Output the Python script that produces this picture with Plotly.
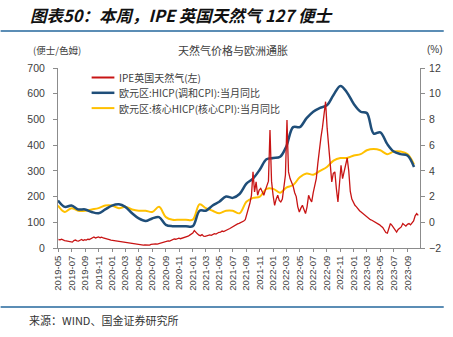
import pandas as pd
import plotly.graph_objects as go

# ---------------- data ----------------
# IPE UK natural gas (pence/therm), weekly readings (Fridays) from 2019-05-03
gas_vals = [
    # 2019 May-Dec
    33, 32, 34, 30, 29,
    28, 26, 27, 24,
    23, 29, 31, 28,
    27, 30, 33, 29, 32,
    31, 34, 33, 36,
    40, 43, 39, 41,
    43, 40, 42, 39, 38,
    37, 35, 33, 31,
    # 2020
    30, 31, 28, 27, 26,
    26, 24, 25, 23,
    23, 21, 20, 19,
    18, 16, 15, 14,
    13, 12, 10, 11, 12,
    12, 13, 11, 14,
    15, 14, 16, 15, 17,
    18, 20, 22, 24,
    26, 28, 27, 30,
    33, 35, 34, 37, 38,
    36, 38, 40, 41,
    43, 46, 50, 54,
    # 2021
    58, 68, 60, 55, 50,
    48, 52, 46, 45,
    47, 48, 51, 49,
    52, 56, 54, 58, 61,
    62, 66, 64, 68,
    69, 73, 76, 80,
    83, 87, 90, 94, 96,
    98, 100, 105, 110,
    130, 150, 175, 205,
    296, 218, 257, 205, 225,
    232, 215, 205, 225,
    245, 260, 459, 260, 205,
    # 2022
    166, 190, 205, 185,
    179, 190, 230, 284,
    498, 296, 270, 257,
    240, 215, 200, 160, 140,
    155, 166, 150, 134,
    160, 205, 190, 179,
    215, 240, 271, 330, 390,
    430, 470, 520, 569,
    466, 388, 335, 257, 290,
    296, 230, 179, 250,
    322, 270, 300, 329,
    350, 300, 220, 190, 175,
    # 2023
    166, 160, 150, 145,
    140, 135, 128, 125,
    120, 115, 110, 108, 105,
    100, 98, 95, 90,
    85, 80, 70, 60,
    58, 75, 95, 88, 80,
    70, 62, 72, 78,
    82, 95, 88, 85,
    92, 95, 90, 100, 105,
    125, 134, 127,
]
gas_dates = pd.date_range("2019-05-03", periods=len(gas_vals), freq="7D")

# Euro area HICP yoy (%), monthly, plotted at month end
hicp_vals = [
    1.7, 1.2, 1.3, 1.0, 1.0, 0.8, 0.7, 1.0, 1.3,
    1.4, 1.2, 0.7, 0.3, 0.1, 0.3, 0.4, -0.2, -0.3, -0.3, -0.3, -0.3,
    0.9, 0.9, 1.3, 1.6, 2.0, 1.9, 2.2, 3.0, 3.4, 4.1, 4.9, 5.0,
    5.1, 5.9, 7.4, 7.4, 8.1, 8.6, 8.9, 9.1, 9.9, 10.6, 10.1, 9.2,
    8.6, 8.5, 6.9, 7.0, 6.1, 5.5, 5.3, 5.2, 4.3,
]
core_vals = [
    1.3, 0.8, 1.1, 0.9, 0.9, 1.0, 1.1, 1.3, 1.3,
    1.1, 1.2, 1.0, 0.9, 0.9, 0.8, 1.2, 0.4, 0.2, 0.2, 0.2, 0.2,
    1.4, 1.1, 0.9, 0.7, 0.9, 0.9, 0.7, 1.6, 1.9, 2.0, 2.6, 2.6,
    2.3, 2.7, 2.9, 3.5, 3.8, 3.7, 4.0, 4.3, 4.8, 5.0, 5.0, 5.2,
    5.3, 5.6, 5.7, 5.6, 5.3, 5.5, 5.5, 5.3, 4.5,
]
cpi_dates = pd.date_range("2019-05-01", periods=len(hicp_vals), freq="MS")

tick_dates = pd.date_range("2019-05-01", "2023-09-01", freq="2MS")
tick_labels = [d.strftime("%Y-%m") for d in tick_dates]

names = ["IPE英国天然气(左)", "欧元区:HICP(调和CPI):当月同比", "欧元区:核心HICP(核心CPI):当月同比"]
colors = ["#C81414", "#1F4E79", "#FFC000"]
widths = [1.3, 2.5, 2.0]

# ---------------- figure ----------------
W, H = 453, 337
L, R, T, B = 58, 29, 68, 89
pw, ph = W - L - R, H - T - B

def px_x(px):
    return (px - L) / pw

def px_y(py):
    return 1 - (py - T) / ph

FONT = "Liberation Sans, Arial, Noto Sans CJK SC, sans-serif"
CJK = "Noto Sans CJK SC, Liberation Sans, sans-serif"

fig = go.Figure()
fig.add_trace(go.Scatter(x=cpi_dates, y=core_vals, name=names[2], mode="lines",
                         line=dict(color=colors[2], width=widths[2], shape="spline", smoothing=1.0),
                         yaxis="y", showlegend=False))
fig.add_trace(go.Scatter(x=cpi_dates, y=hicp_vals, name=names[1], mode="lines",
                         line=dict(color=colors[1], width=widths[1], shape="spline", smoothing=1.0),
                         yaxis="y", showlegend=False))
fig.add_trace(go.Scatter(x=gas_dates, y=gas_vals, name=names[0], mode="lines",
                         line=dict(color=colors[0], width=widths[0]),
                         yaxis="y2", showlegend=False))

axis_common = dict(showline=True, linecolor="#8c8c8c", linewidth=1, ticks="outside",
                   tickcolor="#8c8c8c", ticklen=4, showgrid=False, zeroline=False,
                   tickfont=dict(family=FONT, size=10.5, color="#404040"))

fig.update_layout(
    width=W, height=H,
    margin=dict(l=L, r=R, t=T, b=B, pad=0),
    paper_bgcolor="white", plot_bgcolor="white",
    showlegend=False,
    xaxis=dict(type="date", range=["2019-05-01", "2023-10-28"],
               tickmode="array", tickvals=tick_dates, ticktext=tick_labels,
               tickangle=-90, showline=True, linecolor="#8c8c8c", ticks="outside",
               tickcolor="#8c8c8c", ticklen=3, showgrid=False, zeroline=False,
               tickfont=dict(family=FONT, size=9.5, color="#404040")),
    yaxis=dict(range=[-2, 12], dtick=2, side="right", ticklabelstandoff=2, **axis_common),
    yaxis2=dict(range=[0, 700], dtick=100, side="left", overlaying="y",
                ticklabelstandoff=6, **axis_common),
)

# manual legend (compact spacing like the reference)
for i, (nm, col, wd) in enumerate(zip(names, colors, widths)):
    yy = px_y(77.5 + i * 15.3)
    fig.add_shape(type="line", xref="paper", yref="paper", x0=px_x(92), x1=px_x(115),
                  y0=yy, y1=yy, line=dict(color=col, width=max(wd, 2)))
    fig.add_annotation(xref="paper", yref="paper", x=px_x(118), y=yy,
                       xanchor="left", yanchor="middle", showarrow=False, text=nm,
                       font=dict(family=CJK, size=10, color="#404040"))

# decorations
fig.add_shape(type="line", xref="paper", yref="paper", x0=px_x(0), x1=px_x(448),
              y0=px_y(31), y1=px_y(31), line=dict(color="#5B8DB5", width=2))
fig.add_shape(type="line", xref="paper", yref="paper", x0=px_x(0), x1=px_x(448),
              y0=px_y(307), y1=px_y(307), line=dict(color="#5B8DB5", width=2))

fig.add_annotation(xref="paper", yref="paper", x=px_x(28), y=px_y(15),
                   xanchor="left", yanchor="middle", showarrow=False,
                   text="<b><i>图表50：本周，IPE 英国天然气 127 便士</i></b>",
                   font=dict(family=CJK, size=16.5, color="#111111"))
fig.add_annotation(xref="paper", yref="paper", x=px_x(31), y=px_y(50),
                   xanchor="left", yanchor="middle", showarrow=False,
                   text="(便士/色姆)", font=dict(family=CJK, size=9.5, color="#404040"))
fig.add_annotation(xref="paper", yref="paper", x=px_x(235), y=px_y(50),
                   xanchor="center", yanchor="middle", showarrow=False,
                   text="天然气价格与欧洲通胀", font=dict(family=CJK, size=11, color="#404040"))
fig.add_annotation(xref="paper", yref="paper", x=px_x(439), y=px_y(50),
                   xanchor="center", yanchor="middle", showarrow=False,
                   text="(%)", font=dict(family=FONT, size=10, color="#404040"))
fig.add_annotation(xref="paper", yref="paper", x=px_x(27), y=px_y(320),
                   xanchor="left", yanchor="middle", showarrow=False,
                   text="来源：WIND、国金证券研究所", font=dict(family=CJK, size=11, color="#333333"))

fig.write_html("out.html")
